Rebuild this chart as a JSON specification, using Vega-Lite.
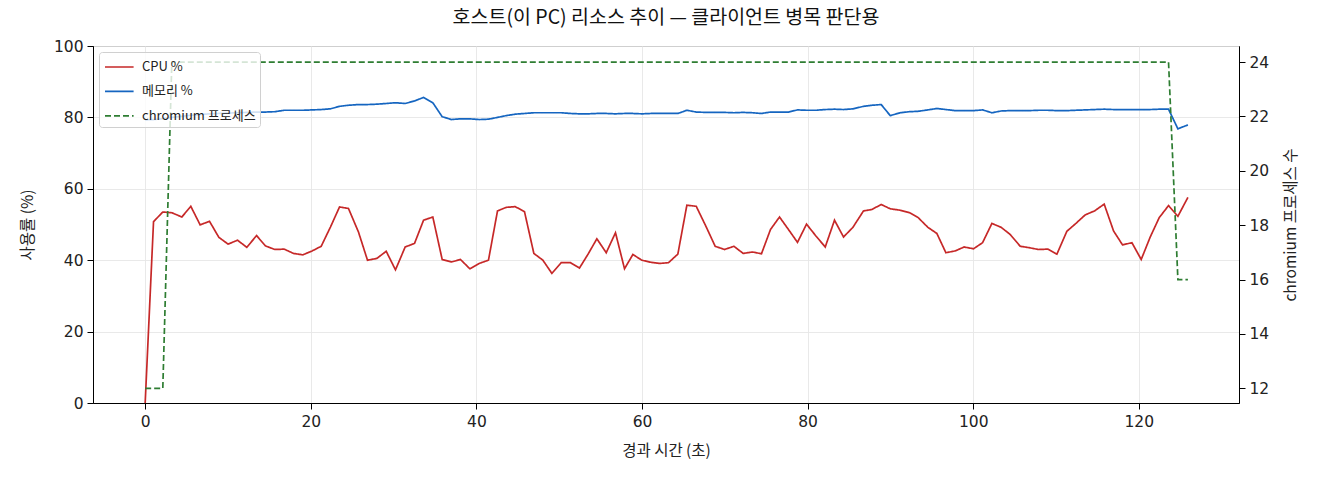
{
  "$schema": "https://vega.github.io/schema/vega-lite/v6.json",
  "width": 1146,
  "height": 357,
  "autosize": {"type": "none"},
  "padding": {"left": 93, "top": 46, "right": 81, "bottom": 77},
  "background": "white",
  "title": {
    "text": "호스트(이 PC) 리소스 추이 — 클라이언트 병목 판단용",
    "fontSize": 19.5,
    "fontWeight": "normal",
    "font": "Noto Sans CJK KR",
    "color": "#111",
    "anchor": "middle",
    "offset": 11
  },
  "data": {
    "values": [
      {"t": 0, "cpu": 0, "mem": 79.3, "proc": 12},
      {"t": 1.01, "cpu": 50.8, "mem": 79.4, "proc": 12},
      {"t": 2.13, "cpu": 53.5, "mem": 79.6, "proc": 12},
      {"t": 3.22, "cpu": 53.3, "mem": 80.0, "proc": 24},
      {"t": 4.43, "cpu": 52.1, "mem": 80.3, "proc": 24},
      {"t": 5.51, "cpu": 55.1, "mem": 80.6, "proc": 24},
      {"t": 6.64, "cpu": 49.9, "mem": 80.8, "proc": 24},
      {"t": 7.77, "cpu": 50.9, "mem": 81.0, "proc": 24},
      {"t": 8.9, "cpu": 46.4, "mem": 81.1, "proc": 24},
      {"t": 10.02, "cpu": 44.5, "mem": 81.2, "proc": 24},
      {"t": 11.15, "cpu": 45.6, "mem": 81.3, "proc": 24},
      {"t": 12.28, "cpu": 43.6, "mem": 81.4, "proc": 24},
      {"t": 13.45, "cpu": 46.9, "mem": 81.5, "proc": 24},
      {"t": 14.53, "cpu": 44.0, "mem": 81.5, "proc": 24},
      {"t": 15.66, "cpu": 43.0, "mem": 81.6, "proc": 24},
      {"t": 16.79, "cpu": 43.1, "mem": 82.0, "proc": 24},
      {"t": 17.91, "cpu": 41.9, "mem": 82.0, "proc": 24},
      {"t": 19.04, "cpu": 41.5, "mem": 82.0, "proc": 24},
      {"t": 20.17, "cpu": 42.6, "mem": 82.1, "proc": 24},
      {"t": 21.26, "cpu": 43.9, "mem": 82.2, "proc": 24},
      {"t": 22.38, "cpu": 49.3, "mem": 82.4, "proc": 24},
      {"t": 23.47, "cpu": 54.9, "mem": 83.1, "proc": 24},
      {"t": 24.55, "cpu": 54.5, "mem": 83.4, "proc": 24},
      {"t": 25.76, "cpu": 47.9, "mem": 83.6, "proc": 24},
      {"t": 26.85, "cpu": 40.0, "mem": 83.6, "proc": 24},
      {"t": 27.98, "cpu": 40.5, "mem": 83.7, "proc": 24},
      {"t": 29.11, "cpu": 42.5, "mem": 83.9, "proc": 24},
      {"t": 30.23, "cpu": 37.3, "mem": 84.1, "proc": 24},
      {"t": 31.4, "cpu": 43.7, "mem": 83.9, "proc": 24},
      {"t": 32.53, "cpu": 44.7, "mem": 84.6, "proc": 24},
      {"t": 33.62, "cpu": 51.2, "mem": 85.6, "proc": 24},
      {"t": 34.74, "cpu": 52.1, "mem": 84.1, "proc": 24},
      {"t": 35.87, "cpu": 40.2, "mem": 80.2, "proc": 24},
      {"t": 36.99, "cpu": 39.5, "mem": 79.4, "proc": 24},
      {"t": 38.08, "cpu": 40.2, "mem": 79.6, "proc": 24},
      {"t": 39.21, "cpu": 37.6, "mem": 79.6, "proc": 24},
      {"t": 40.34, "cpu": 39.1, "mem": 79.4, "proc": 24},
      {"t": 41.46, "cpu": 40.0, "mem": 79.5, "proc": 24},
      {"t": 42.55, "cpu": 53.8, "mem": 80.0, "proc": 24},
      {"t": 43.6, "cpu": 54.8, "mem": 80.5, "proc": 24},
      {"t": 44.69, "cpu": 55.0, "mem": 80.9, "proc": 24},
      {"t": 45.81, "cpu": 53.6, "mem": 81.1, "proc": 24},
      {"t": 46.94, "cpu": 41.9, "mem": 81.3, "proc": 24},
      {"t": 48.03, "cpu": 40.0, "mem": 81.3, "proc": 24},
      {"t": 49.12, "cpu": 36.3, "mem": 81.3, "proc": 24},
      {"t": 50.24, "cpu": 39.3, "mem": 81.3, "proc": 24},
      {"t": 51.37, "cpu": 39.3, "mem": 81.1, "proc": 24},
      {"t": 52.45, "cpu": 37.8, "mem": 81.0, "proc": 24},
      {"t": 53.54, "cpu": 41.9, "mem": 81.0, "proc": 24},
      {"t": 54.55, "cpu": 46.0, "mem": 81.1, "proc": 24},
      {"t": 55.68, "cpu": 42.1, "mem": 81.1, "proc": 24},
      {"t": 56.8, "cpu": 47.7, "mem": 81.0, "proc": 24},
      {"t": 57.89, "cpu": 37.6, "mem": 81.1, "proc": 24},
      {"t": 58.9, "cpu": 41.6, "mem": 81.1, "proc": 24},
      {"t": 59.98, "cpu": 40.0, "mem": 81.0, "proc": 24},
      {"t": 61.11, "cpu": 39.4, "mem": 81.1, "proc": 24},
      {"t": 62.12, "cpu": 39.1, "mem": 81.1, "proc": 24},
      {"t": 63.2, "cpu": 39.3, "mem": 81.1, "proc": 24},
      {"t": 64.33, "cpu": 41.7, "mem": 81.1, "proc": 24},
      {"t": 65.42, "cpu": 55.4, "mem": 82.0, "proc": 24},
      {"t": 66.55, "cpu": 55.1, "mem": 81.5, "proc": 24},
      {"t": 67.72, "cpu": 49.5, "mem": 81.4, "proc": 24},
      {"t": 68.84, "cpu": 43.9, "mem": 81.4, "proc": 24},
      {"t": 69.97, "cpu": 43.0, "mem": 81.4, "proc": 24},
      {"t": 71.1, "cpu": 43.9, "mem": 81.3, "proc": 24},
      {"t": 72.22, "cpu": 41.9, "mem": 81.4, "proc": 24},
      {"t": 73.35, "cpu": 42.3, "mem": 81.3, "proc": 24},
      {"t": 74.43, "cpu": 41.8, "mem": 81.1, "proc": 24},
      {"t": 75.52, "cpu": 48.6, "mem": 81.5, "proc": 24},
      {"t": 76.61, "cpu": 52.1, "mem": 81.5, "proc": 24},
      {"t": 77.69, "cpu": 48.6, "mem": 81.5, "proc": 24},
      {"t": 78.78, "cpu": 45.0, "mem": 82.1, "proc": 24},
      {"t": 79.87, "cpu": 50.1, "mem": 82.0, "proc": 24},
      {"t": 81.0, "cpu": 46.8, "mem": 82.0, "proc": 24},
      {"t": 82.13, "cpu": 43.7, "mem": 82.2, "proc": 24},
      {"t": 83.25, "cpu": 51.2, "mem": 82.3, "proc": 24},
      {"t": 84.34, "cpu": 46.5, "mem": 82.2, "proc": 24},
      {"t": 85.47, "cpu": 49.2, "mem": 82.4, "proc": 24},
      {"t": 86.75, "cpu": 53.8, "mem": 83.1, "proc": 24},
      {"t": 87.76, "cpu": 54.2, "mem": 83.4, "proc": 24},
      {"t": 88.89, "cpu": 55.6, "mem": 83.6, "proc": 24},
      {"t": 89.98, "cpu": 54.4, "mem": 80.5, "proc": 24},
      {"t": 91.18, "cpu": 54.0, "mem": 81.3, "proc": 24},
      {"t": 92.31, "cpu": 53.3, "mem": 81.6, "proc": 24},
      {"t": 93.32, "cpu": 52.0, "mem": 81.7, "proc": 24},
      {"t": 94.53, "cpu": 49.2, "mem": 82.1, "proc": 24},
      {"t": 95.61, "cpu": 47.5, "mem": 82.5, "proc": 24},
      {"t": 96.7, "cpu": 42.1, "mem": 82.2, "proc": 24},
      {"t": 97.83, "cpu": 42.6, "mem": 81.9, "proc": 24},
      {"t": 98.91, "cpu": 43.7, "mem": 81.9, "proc": 24},
      {"t": 100.04, "cpu": 43.2, "mem": 81.9, "proc": 24},
      {"t": 101.13, "cpu": 44.9, "mem": 82.1, "proc": 24},
      {"t": 102.26, "cpu": 50.3, "mem": 81.3, "proc": 24},
      {"t": 103.38, "cpu": 49.2, "mem": 81.8, "proc": 24},
      {"t": 104.47, "cpu": 47.2, "mem": 81.9, "proc": 24},
      {"t": 105.68, "cpu": 43.9, "mem": 81.9, "proc": 24},
      {"t": 106.76, "cpu": 43.5, "mem": 81.9, "proc": 24},
      {"t": 107.89, "cpu": 43.0, "mem": 82.0, "proc": 24},
      {"t": 109.02, "cpu": 43.1, "mem": 82.0, "proc": 24},
      {"t": 110.11, "cpu": 41.7, "mem": 81.9, "proc": 24},
      {"t": 111.31, "cpu": 48.1, "mem": 81.9, "proc": 24},
      {"t": 112.4, "cpu": 50.3, "mem": 82.0, "proc": 24},
      {"t": 113.53, "cpu": 52.7, "mem": 82.1, "proc": 24},
      {"t": 114.65, "cpu": 53.8, "mem": 82.2, "proc": 24},
      {"t": 115.82, "cpu": 55.7, "mem": 82.3, "proc": 24},
      {"t": 116.95, "cpu": 48.2, "mem": 82.2, "proc": 24},
      {"t": 118.03, "cpu": 44.3, "mem": 82.2, "proc": 24},
      {"t": 119.17, "cpu": 44.9, "mem": 82.2, "proc": 24},
      {"t": 120.29, "cpu": 40.2, "mem": 82.2, "proc": 24},
      {"t": 121.38, "cpu": 46.5, "mem": 82.2, "proc": 24},
      {"t": 122.46, "cpu": 51.9, "mem": 82.3, "proc": 24},
      {"t": 123.59, "cpu": 55.3, "mem": 82.3, "proc": 24},
      {"t": 124.72, "cpu": 52.3, "mem": 76.8, "proc": 16},
      {"t": 125.93, "cpu": 57.6, "mem": 77.9, "proc": 16}
    ]
  },
  "layer": [
    {
      "transform": [{"fold": ["cpu", "mem"], "as": ["series", "value"]}],
      "mark": {"type": "line", "strokeWidth": 1.7},
      "encoding": {
        "x": {
          "field": "t",
          "type": "quantitative",
          "scale": {"domain": [-6.3, 132.1], "nice": false, "zero": false},
          "axis": {
            "title": "경과 시간 (초)",
            "values": [0, 20, 40, 60, 80, 100, 120],
            "grid": true,
            "labelPadding": 5,
            "titlePadding": 14
          }
        },
        "y": {
          "field": "value",
          "type": "quantitative",
          "scale": {"domain": [0, 100], "nice": false},
          "axis": {
            "title": "사용률 (%)",
            "values": [0, 20, 40, 60, 80, 100],
            "grid": true,
            "titlePadding": 18
          }
        },
        "color": {
          "field": "series",
          "type": "nominal",
          "scale": {
            "domain": ["cpu", "mem", "proc"],
            "range": ["#c62828", "#1565c0", "#2e7d32"]
          },
          "legend": {
            "title": null,
            "orient": "none",
            "legendX": 6,
            "legendY": 6,
            "labelExpr": "datum.value == 'cpu' ? 'CPU %' : datum.value == 'mem' ? '메모리 %' : 'chromium 프로세스'"
          }
        },
        "strokeDash": {
          "field": "series",
          "type": "nominal",
          "scale": {
            "domain": ["cpu", "mem", "proc"],
            "range": [[1, 0], [1, 0], [6, 3]]
          },
          "legend": {
            "title": null,
            "orient": "none",
            "legendX": 6,
            "legendY": 6,
            "labelExpr": "datum.value == 'cpu' ? 'CPU %' : datum.value == 'mem' ? '메모리 %' : 'chromium 프로세스'"
          }
        }
      }
    },
    {
      "transform": [{"fold": ["proc"], "as": ["series", "count"]}],
      "mark": {"type": "line", "strokeWidth": 1.7},
      "encoding": {
        "x": {"field": "t", "type": "quantitative"},
        "y": {
          "field": "count",
          "type": "quantitative",
          "scale": {"domain": [11.46, 24.59], "nice": false, "zero": false},
          "axis": {
            "orient": "right",
            "title": "chromium 프로세스 수",
            "titleAngle": -90,
            "titleBaseline": "bottom",
            "values": [12, 14, 16, 18, 20, 22, 24],
            "grid": false,
            "titlePadding": 30
          }
        },
        "color": {"field": "series", "type": "nominal"},
        "strokeDash": {"field": "series", "type": "nominal"}
      }
    }
  ],
  "resolve": {"scale": {"y": "independent"}},
  "config": {
    "font": "Noto Sans CJK KR",
    "view": {"stroke": "black", "strokeWidth": 1},
    "axis": {
      "labelFont": "DejaVu Sans",
      "titleFont": "Noto Sans CJK KR",
      "labelFontSize": 15.5,
      "titleFontSize": 15.5,
      "titleFontWeight": "normal",
      "labelColor": "#222",
      "titleColor": "#222",
      "domainColor": "black",
      "tickColor": "black",
      "tickSize": 6,
      "labelPadding": 4,
      "gridColor": "#e6e6e6",
      "gridWidth": 0.9
    },
    "legend": {
      "labelFont": "Noto Sans CJK KR",
      "labelFontSize": 13,
      "labelColor": "#222",
      "symbolType": "M-0.9,0H1.96",
      "symbolSize": 400,
      "symbolStrokeWidth": 1.7,
      "rowPadding": 6.4,
      "padding": 4,
      "fillColor": "rgba(255,255,255,0.8)",
      "strokeColor": "#d0d0d0",
      "cornerRadius": 3,
      "labelOffset": 17
    }
  }
}
